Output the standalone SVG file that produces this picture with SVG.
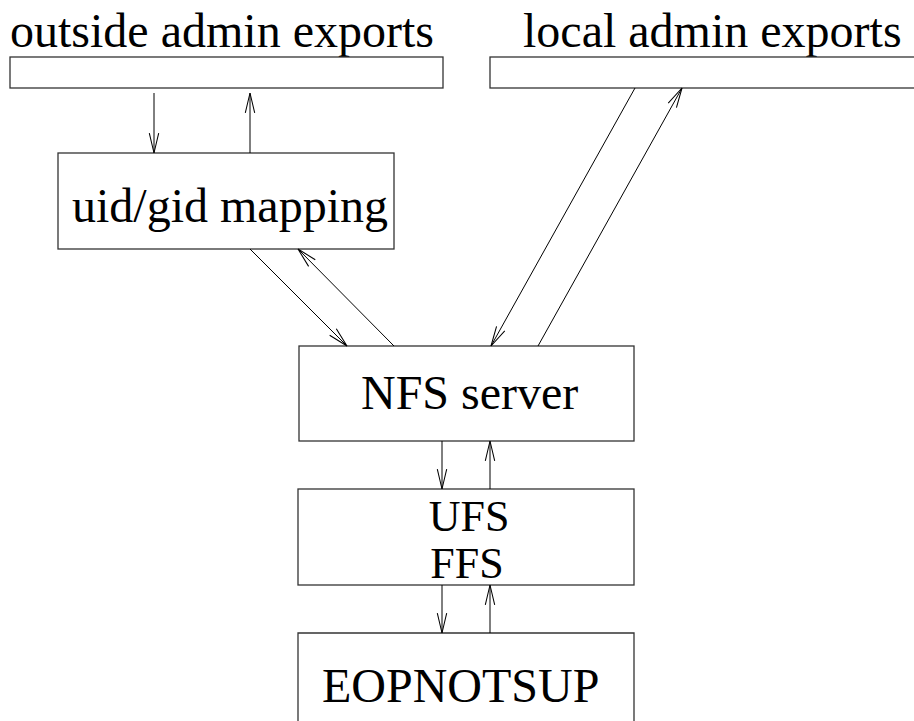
<svg xmlns="http://www.w3.org/2000/svg" width="914" height="721" viewBox="0 0 914 721">
<style>
.box{fill:#fff;stroke:#333;stroke-width:1.3}
.lbl{font-family:"Liberation Serif","Times New Roman",serif;font-size:48px;fill:#000}
.sm{font-size:44px}
.c{text-anchor:middle}
.edge{stroke:#000;stroke-width:1;fill:none;marker-end:url(#ah)}
</style>
<defs>
<marker id="ah" markerUnits="userSpaceOnUse" orient="auto" markerWidth="24" markerHeight="14" refX="0" refY="0" viewBox="-21 -6 23 12" overflow="visible">
<path d="M-19,-4.5 L0,0 L-19,4.5" fill="none" stroke="#000" stroke-width="1"/>
</marker>
</defs>
<rect width="914" height="721" fill="#fff"/>
<g id="outside">
<text class="lbl" x="10" y="47">outside admin exports</text>
<rect class="box" x="10" y="57" width="433" height="31"/>
</g>
<g id="local">
<text class="lbl" x="523" y="47">local admin exports</text>
<rect class="box" x="490" y="57" width="440" height="31"/>
</g>
<g id="mapping">
<rect class="box" x="58" y="153" width="336" height="96"/>
<text class="lbl" x="72" y="222">uid/gid mapping</text>
</g>
<g id="nfs">
<rect class="box" x="299" y="346" width="335" height="95"/>
<text class="lbl" x="361" y="409">NFS server</text>
</g>
<g id="ufs">
<rect class="box" x="298" y="489" width="336" height="96"/>
<text class="lbl sm c" x="469" y="531">UFS</text>
<text class="lbl sm c" x="467" y="578">FFS</text>
</g>
<g id="eop">
<path class="box" d="M298,725 V633 H634 V725"/>
<text class="lbl" x="322" y="702">EOPNOTSUP</text>
</g>
<g id="connectors">
<line class="edge" x1="154" y1="93" x2="154" y2="153"/>
<line class="edge" x1="250" y1="153" x2="250" y2="93"/>
<line class="edge" x1="250" y1="249" x2="347" y2="346"/>
<line class="edge" x1="394" y1="346" x2="298" y2="249"/>
<line class="edge" x1="635" y1="88" x2="491" y2="346"/>
<line class="edge" x1="538" y1="346" x2="682" y2="88"/>
<line class="edge" x1="442" y1="441" x2="442" y2="489"/>
<line class="edge" x1="490" y1="489" x2="490" y2="441"/>
<line class="edge" x1="442" y1="585" x2="442" y2="633"/>
<line class="edge" x1="490" y1="633" x2="490" y2="585"/>
</g>
</svg>
